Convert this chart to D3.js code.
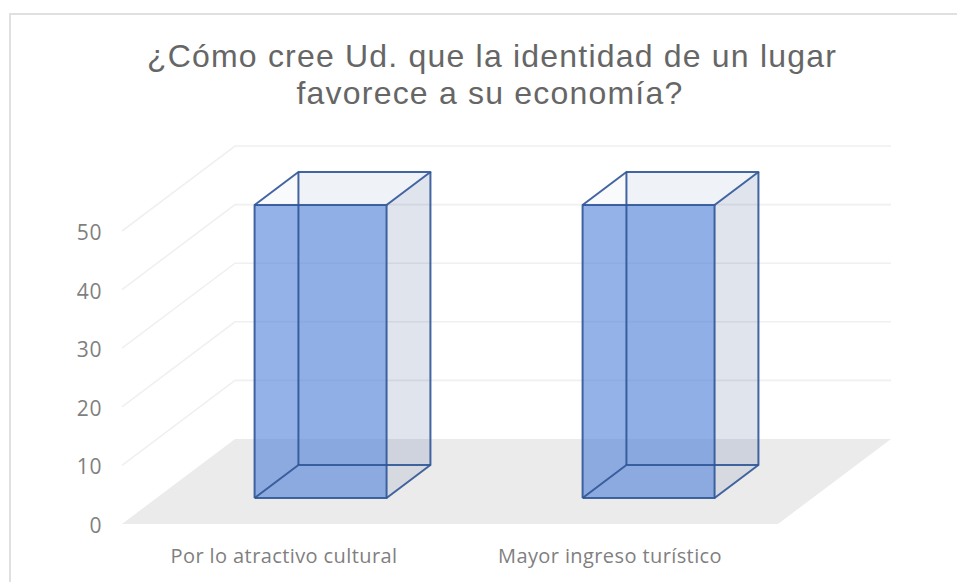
<!DOCTYPE html>
<html><head><meta charset="utf-8">
<style>html,body{margin:0;padding:0;background:#fff}svg{display:block}</style>
<script src="https://cdn.jsdelivr.net/npm/d3@7"></script>
</head><body><svg id="c" width="957" height="582"></svg>
<script>
const categories = ["Por lo atractivo cultural", "Mayor ingreso turístico"];
const values = [50, 50];
const yTicks = [0, 10, 20, 30, 40, 50];
const titleLines = ["¿Cómo cree Ud. que la identidad de un lugar", "favorece a su economía?"];

const svg = d3.select("#c");
const W = 957, H = 582;
svg.append("rect").attr("x",10).attr("y",14).attr("width",W+20).attr("height",H+20)
  .attr("fill","#fff").attr("stroke","#e0e0e0").attr("stroke-width",2);

const x = d3.scaleBand().domain(categories).range([122, 778]).paddingInner(0).paddingOuter(0);
const y = d3.scaleLinear().domain([0, 50]).range([0, 293]);
const depthX = d3.scaleLinear().domain([0, 1]).range([0, 113]);
const depthY = d3.scaleLinear().domain([0, 1]).range([0, 85]);
const baseY = 524;
const P = (px, v, d) => [px + depthX(d), baseY - depthY(d) - y(v)];
const L = d3.line();
const x0 = 122, x1 = 778;

// walls
const grid = svg.append("g").attr("fill","none").attr("stroke","#f0f0f0").attr("stroke-width",1.6);
yTicks.filter(t => t > 0).forEach(t => {
  grid.append("path").attr("d", L([P(x0,t,0), P(x0,t,1), P(x1,t,1)]));
});
// floor
svg.append("path").attr("d", L([P(x0,0,0),P(x0,0,1),P(x1,0,1),P(x1,0,0)])+"Z").attr("fill","#ebebeb");

// bars
const dF = 0.306, dB = 0.694, barW = 132;
const stroke = "#2f5597";
const bars = svg.append("g").selectAll("g").data(categories).join("g");
bars.each(function(c, i) {
  const g = d3.select(this), v = values[i];
  const l = x(c) + x.bandwidth()/2 - barW/2 , r = l + barW;
  const poly = (pts, fill, op) => g.append("path").attr("d", L(pts)+"Z").attr("fill",fill).attr("fill-opacity",op).attr("stroke","none");
  poly([P(l,0,dB),P(r,0,dB),P(r,v,dB),P(l,v,dB)], "#3f5a96", 0.05);
  poly([P(r,0,dF),P(r,0,dB),P(r,v,dB),P(r,v,dF)], "#3f5a96", 0.12);
  poly([P(l,v,dF),P(r,v,dF),P(r,v,dB),P(l,v,dB)], "#3f5a96", 0.03);
  poly([P(l,0,dF),P(r,0,dF),P(r,v,dF),P(l,v,dF)], "#5383da", 0.62);
  const edges = [
    [P(l,0,dF),P(r,0,dF),P(r,v,dF),P(l,v,dF),P(l,0,dF)],
    [P(l,v,dF),P(l,v,dB),P(r,v,dB),P(r,v,dF)],
    [P(r,v,dB),P(r,0,dB),P(r,0,dF)],
    [P(l,0,dF),P(l,0,dB),P(r,0,dB)],
    [P(l,0,dB),P(l,v,dB)]
  ];
  edges.forEach(e => g.append("path").attr("d",L(e)).attr("fill","none").attr("stroke",stroke).attr("stroke-opacity",0.9).attr("stroke-width",2).attr("stroke-linejoin","round"));
});

// y labels
const labelFont = "'Open Sans','Noto Sans',sans-serif";
svg.append("g").selectAll("text").data(yTicks).join("text")
  .attr("x",102).attr("y",t => baseY - y(t) + 9).attr("text-anchor","end")
  .attr("font-family",labelFont).attr("font-size",21).attr("letter-spacing",0.6).attr("fill","#7f7f7f").text(t => t);

// x labels
svg.append("g").selectAll("text").data(categories).join("text")
  .attr("x",(c,i) => i === 0 ? 284 : 610).attr("y",563).attr("text-anchor","middle")
  .attr("font-family",labelFont).attr("font-size",20).attr("letter-spacing",0.4).attr("fill","#7f7f7f").text(c => c);

// title
svg.append("g").selectAll("text").data(titleLines).join("text")
  .attr("x",(d,i) => i === 0 ? 492 : 490).attr("y",(d,i) => 67 + i*36.5).attr("text-anchor","middle")
  .attr("font-family","'Liberation Sans',Arial,sans-serif").attr("font-size",32).attr("letter-spacing",1.2)
  .attr("fill","#666666").text(d => d);
</script></body></html>
